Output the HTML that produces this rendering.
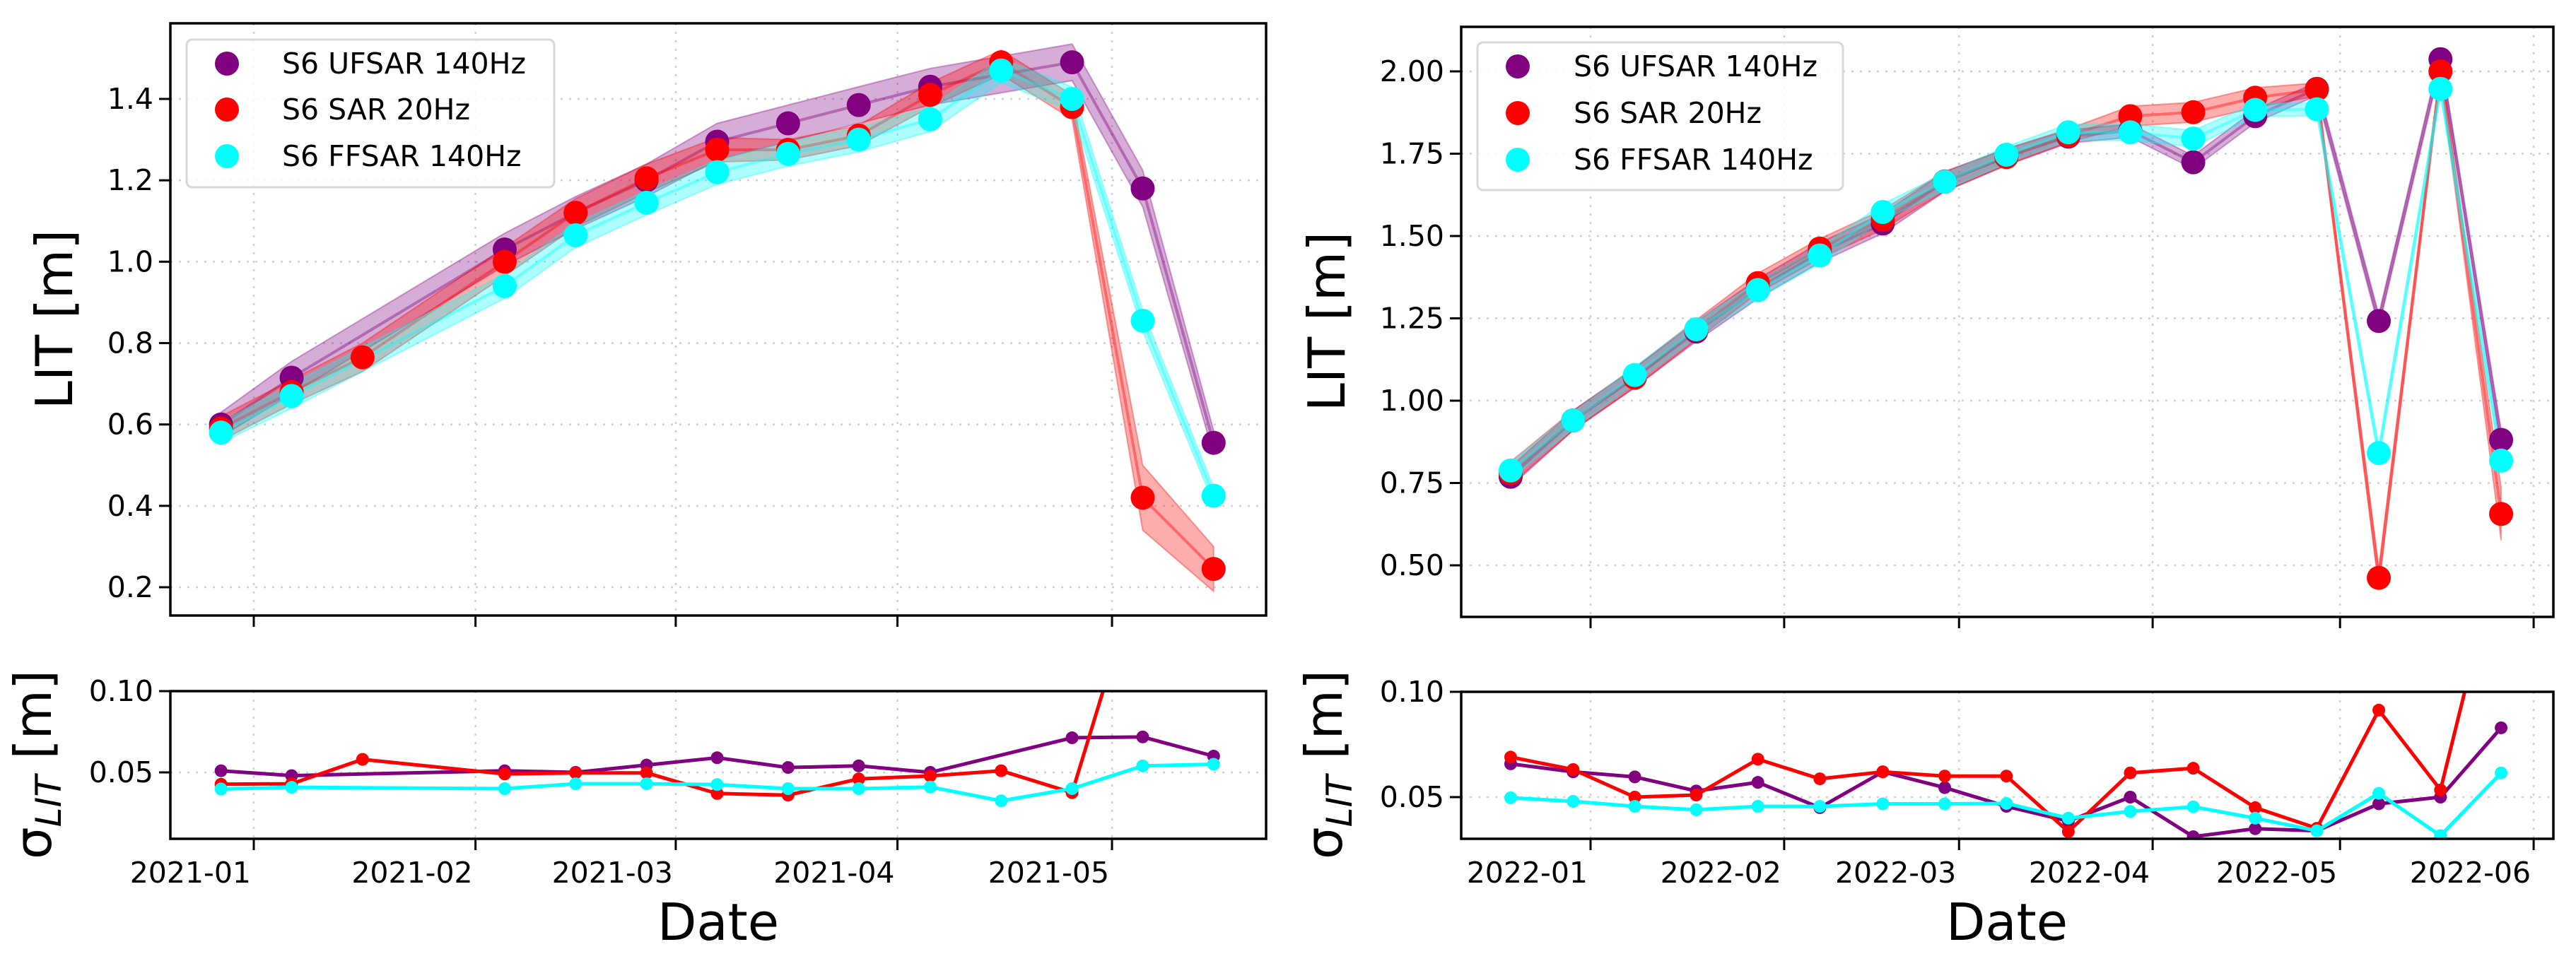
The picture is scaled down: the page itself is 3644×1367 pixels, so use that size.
<!DOCTYPE html>
<html><head><meta charset="utf-8"><style>
html,body{margin:0;padding:0;background:#fff;}
svg{display:block;font-family:"DejaVu Sans","Liberation Sans",sans-serif;}
</style></head><body>
<svg id="fig" width="3644" height="1367" viewBox="0 0 3644 1367" xmlns="http://www.w3.org/2000/svg"></svg>
<script>
// ---------- LEFT (2021) data ----------
const leftDates = ['2020-12-27T10:00Z','2021-01-06T07:00Z','2021-01-16T05:00Z','2021-02-05T02:00Z','2021-02-15T00:00Z','2021-02-24T22:00Z','2021-03-06T19:00Z','2021-03-16T17:00Z','2021-03-26T14:00Z','2021-04-05T14:00Z','2021-04-15T12:00Z','2021-04-25T10:00Z','2021-05-05T07:00Z','2021-05-15T05:00Z'];
const leftUF = [0.60,0.715,null,1.03,1.12,1.20,1.295,1.34,1.385,1.43,null,1.49,1.18,0.555];
const leftSAR = [0.59,0.68,0.765,1.00,1.12,1.205,1.275,1.275,1.31,1.41,1.49,1.38,0.42,0.245];
const leftFF = [0.58,0.67,null,0.94,1.065,1.145,1.22,1.265,1.30,1.35,1.47,1.40,0.855,0.425];
const leftBandUF = [0.03,0.04,0.04,0.04,0.04,0.04,0.045,0.045,0.045,0.045,0.045,0.045,0.045,0.03];
const leftBandSAR = [0.03,0.03,0.035,0.035,0.035,0.035,0.03,0.025,0.025,0.03,0.03,0.03,0.08,0.055];
const leftBandFF = [0.025,0.03,0.03,0.03,0.03,0.03,0.03,0.03,0.03,0.03,0.03,0.03,0.025,0.02];
const leftSigUFv = [0.051,0.048,null,0.051,0.050,0.0545,0.059,0.053,0.054,0.050,null,0.0713,0.0718,0.060];
const leftSigSAR = [0.0427,0.043,0.058,0.049,0.0497,0.0497,0.037,0.036,0.046,0.0478,0.051,0.0375,0.18,0.16];
const leftSigFF = [0.0398,0.0408,null,0.040,0.043,0.043,0.0425,0.040,0.040,0.041,0.0325,0.040,0.054,0.055];
const leftYTicks = [0.2,0.4,0.6,0.8,1.0,1.2,1.4];
const leftYTickLabels = ['0.2','0.4','0.6','0.8','1.0','1.2','1.4'];
const leftXTicks = ['2021-01-01','2021-02-01','2021-03-01','2021-04-01','2021-05-01'];
const leftXTickLabels = ['2021-01','2021-02','2021-03','2021-04','2021-05'];

// ---------- RIGHT (2022) data ----------
const rightDates = ['2021-12-19T05:00Z','2021-12-29T05:00Z','2022-01-08T02:00Z','2022-01-17T22:00Z','2022-01-27T19:00Z','2022-02-06T17:00Z','2022-02-16T19:00Z','2022-02-26T17:00Z','2022-03-08T14:00Z','2022-03-18T12:00Z','2022-03-28T10:00Z','2022-04-07T12:00Z','2022-04-17T10:00Z','2022-04-27T07:00Z','2022-05-07T05:00Z','2022-05-17T02:00Z','2022-05-26T19:00Z'];
const rightUF = [0.769,0.94,1.07,1.21,1.34,1.45,1.538,1.665,1.74,1.802,1.82,1.724,1.864,1.947,1.242,2.037,0.881];
const rightSAR = [0.78,0.94,1.07,1.215,1.357,1.462,1.55,1.666,1.74,1.805,1.864,1.876,1.92,1.945,0.462,2.00,0.656];
const rightFF = [0.788,0.94,1.078,1.217,1.336,1.441,1.573,1.665,1.747,1.815,1.815,1.796,1.883,1.885,0.841,1.947,0.818];
const rightBandUF = [0.03,0.03,0.03,0.03,0.03,0.03,0.03,0.03,0.025,0.02,0.02,0.02,0.02,0.02,0.02,0.02,0.03];
const rightBandSAR = [0.035,0.03,0.03,0.03,0.03,0.03,0.03,0.03,0.025,0.02,0.03,0.03,0.03,0.02,0.03,0.02,0.08];
const rightBandFF = [0.025,0.025,0.025,0.025,0.025,0.025,0.025,0.025,0.025,0.025,0.025,0.025,0.02,0.02,0.02,0.02,0.02];
const rightSigUF = [0.0658,0.062,0.0596,0.0529,0.057,0.045,0.062,0.0545,0.0456,0.0386,0.050,0.0312,0.035,0.034,0.0468,0.050,0.0829];
const rightSigSAR = [0.069,0.0631,0.050,0.051,0.068,0.0587,0.062,0.060,0.060,0.0336,0.0615,0.0637,0.045,0.0352,0.0913,0.0534,0.17];
const rightSigFF = [0.0497,0.048,0.0456,0.044,0.0456,0.0456,0.0468,0.0468,0.047,0.040,0.0432,0.0454,0.040,0.034,0.0518,0.0317,0.0615];
const rightYTicks = [0.5,0.75,1.0,1.25,1.5,1.75,2.0];
const rightYTickLabels = ['0.50','0.75','1.00','1.25','1.50','1.75','2.00'];
const rightXTicks = ['2022-01-01','2022-02-01','2022-03-01','2022-04-01','2022-05-01','2022-06-01'];
const rightXTickLabels = ['2022-01','2022-02','2022-03','2022-04','2022-05','2022-06'];

const sigTicks = [0.05,0.10];
const sigTickLabels = ['0.05','0.10'];

const NS='http://www.w3.org/2000/svg';
const svg=document.getElementById('fig');
function mk(tag,attrs,parent){const e=document.createElementNS(NS,tag);for(const k in attrs)e.setAttribute(k,attrs[k]);(parent||svg).appendChild(e);return e;}
const DAY=86400000;
const COL={uf:'#800080',sar:'#ff0000',ff:'#00ffff'};

function makeX(ref,refPx,pxPerDay){const r=Date.parse(ref+'T00:00Z');return d=>refPx+(Date.parse(d.length===10?d+'T00:00Z':d)-r)/DAY*pxPerDay;}
function makeY(v0,p0,v1,p1){return v=>p0+(v-v0)*(p1-p0)/(v1-v0);}

function panel(cfg){
  const g=mk('g',{});
  
  
  const {L,R,T,B}=cfg.box;
  const clipId=cfg.name+'-clip';
  const cp=mk('clipPath',{id:clipId},g);mk('rect',{x:L,y:T,width:R-L,height:B-T},cp);
  const grid=mk('g',{},g);
  
  
  cfg.xTicks.forEach(t=>{const x=cfg.x(t);mk('line',{x1:x,x2:x,y1:T,y2:B,stroke:'#d0d0d0','stroke-width':2.5,'stroke-dasharray':'3,9'},grid);});
  cfg.yTicks.forEach(v=>{const y=cfg.y(v);mk('line',{x1:L,x2:R,y1:y,y2:y,stroke:'#d0d0d0','stroke-width':2.5,'stroke-dasharray':'3,9'},grid);});
  const plot=mk('g',{'clip-path':'url(#'+clipId+')'},g);
  cfg.draw(plot);
  const fr=mk('rect',{x:L,y:T,width:R-L,height:B-T,fill:'none',stroke:'#000','stroke-width':3.5},g);
  
  
  cfg.yTicks.forEach((v,i)=>{const y=cfg.y(v);
    mk('line',{x1:L-16,x2:L,y1:y,y2:y,stroke:'#000','stroke-width':3},g);
    const t=mk('text',{x:L-24,y:y+14,'text-anchor':'end','font-size':41,fill:'#000'},g);
    t.textContent=cfg.yLabels[i];
    
    });
  cfg.xTicks.forEach((d,i)=>{const x=cfg.x(d);
    mk('line',{x1:x,x2:x,y1:B,y2:B+16,stroke:'#000','stroke-width':3},g);
    if(cfg.xLabels){const t=mk('text',{x:x-4,y:B+62,'text-anchor':'end','font-size':41,fill:'#000'},g);
      t.textContent=cfg.xLabels[i];
      
      }});
  return g;
}

function bandAndLine(p,dates,vals,band,col,x,y){
  const pts=[];vals.forEach((v,i)=>{if(v!=null)pts.push([x(dates[i]),v,band[i]]);});
  const up=pts.map(q=>q[0]+','+y(q[1]+q[2])).join(' ');
  const dn=pts.slice().reverse().map(q=>q[0]+','+y(q[1]-q[2])).join(' ');
  const b=mk('polygon',{points:up+' '+dn,fill:col,'fill-opacity':0.32,stroke:col,'stroke-opacity':0.35,'stroke-width':2},p);
  
  
  const l=mk('polyline',{points:pts.map(q=>q[0]+','+y(q[1])).join(' '),fill:'none',stroke:col,'stroke-opacity':0.4,'stroke-width':4},p);
  
  
}
function dots(p,dates,vals,col,x,y,r,name){
  vals.forEach((v,i)=>{if(v==null)return;
    const c=mk('circle',{cx:x(dates[i]),cy:y(v),r:r,fill:col},p);
    
    });
}
function sigLine(p,dates,vals,col,x,y,name){
  const pts=[];vals.forEach((v,i)=>{if(v!=null)pts.push(x(dates[i])+','+y(v));});
  const l=mk('polyline',{points:pts.join(' '),fill:'none',stroke:col,'stroke-width':5,'stroke-linejoin':'round'},p);
  
  
  dots(p,dates,vals,col,x,y,9,name+'-point');
}
function legend(x0,y0,w,h,mx,tx,rows){
  const g=mk('g',{});
  
  
  mk('rect',{x:x0,y:y0,width:w,height:h,rx:8,fill:'#fff','fill-opacity':0.85,stroke:'#d8d8d8','stroke-width':3},g);
  const items=[['S6 UFSAR 140Hz',COL.uf],['S6 SAR 20Hz',COL.sar],['S6 FFSAR 140Hz',COL.ff]];
  items.forEach((it,i)=>{const e=mk('g',{},g);
    
    
    mk('circle',{cx:mx,cy:rows[i],r:17,fill:it[1]},e);
    const t=mk('text',{x:tx,y:rows[i]+14,'font-size':41,fill:'#000'},e);t.textContent=it[0];});
}
function ylabelLIT(cx,cy){
  const t=mk('text',{x:cx,y:cy,'text-anchor':'middle','font-size':72,fill:'#000',transform:'rotate(-90 '+cx+' '+cy+')'});
  t.textContent='LIT [m]';
  
  
}
function ylabelSig(cx,cy){
  const t=mk('text',{x:cx,y:cy,'text-anchor':'middle','font-size':72,fill:'#000',transform:'rotate(-90 '+cx+' '+cy+')'});
  
  
  const a=mk('tspan',{},t);a.textContent='σ';
  const b=mk('tspan',{'font-size':50,'font-style':'italic',dy:14},t);b.textContent='LIT';
  const c=mk('tspan',{dy:-14},t);c.textContent=' [m]';
}
function xlabel(cx,cy){
  const t=mk('text',{x:cx,y:cy,'text-anchor':'middle','font-size':72,fill:'#000'});
  t.textContent='Date';
  
  
}

// ===== Left =====
const xL=makeX('2021-01-01',359,10.117);
const yL=makeY(0.2,831,1.4,140);
panel({name:'left-main-chart',box:{L:241,R:1791,T:33,B:871},x:xL,y:yL,xTicks:leftXTicks,yTicks:leftYTicks,yLabels:leftYTickLabels,
  draw:p=>{bandAndLine(p,leftDates,leftUF,leftBandUF,COL.uf,xL,yL);bandAndLine(p,leftDates,leftSAR,leftBandSAR,COL.sar,xL,yL);bandAndLine(p,leftDates,leftFF,leftBandFF,COL.ff,xL,yL);
    dots(p,leftDates,leftUF,COL.uf,xL,yL,17,'ufsar-point');dots(p,leftDates,leftSAR,COL.sar,xL,yL,17,'sar-point');dots(p,leftDates,leftFF,COL.ff,xL,yL,17,'ffsar-point');}});
legend(264,56,520,209,321,399,[90,155,221]);
ylabelLIT(102,452);
const ysL=makeY(0.05,1093,0.10,978);
panel({name:'left-sigma-chart',box:{L:241,R:1791,T:978,B:1187},x:xL,y:ysL,xTicks:leftXTicks,xLabels:leftXTickLabels,yTicks:sigTicks,yLabels:sigTickLabels,
  draw:p=>{sigLine(p,leftDates,leftSigUFv,COL.uf,xL,ysL,'ufsar-sigma');sigLine(p,leftDates,leftSigSAR,COL.sar,xL,ysL,'sar-sigma');sigLine(p,leftDates,leftSigFF,COL.ff,xL,ysL,'ffsar-sigma');}});
ylabelSig(72,1082);
xlabel(1016,1330);

// ===== Right =====
const xR=makeX('2022-01-01',2250,8.835);
const yR=makeY(2.0,101,0.5,800);
panel({name:'right-main-chart',box:{L:2067,R:3612,T:38,B:873},x:xR,y:yR,xTicks:rightXTicks,yTicks:rightYTicks,yLabels:rightYTickLabels,
  draw:p=>{bandAndLine(p,rightDates,rightUF,rightBandUF,COL.uf,xR,yR);bandAndLine(p,rightDates,rightSAR,rightBandSAR,COL.sar,xR,yR);bandAndLine(p,rightDates,rightFF,rightBandFF,COL.ff,xR,yR);
    dots(p,rightDates,rightUF,COL.uf,xR,yR,17,'ufsar-point');dots(p,rightDates,rightSAR,COL.sar,xR,yR,17,'sar-point');dots(p,rightDates,rightFF,COL.ff,xR,yR,17,'ffsar-point');}});
legend(2090,60,517,209,2147,2226,[94,160,226]);
ylabelLIT(1902,455);
const ysR=makeY(0.05,1128,0.10,979);
panel({name:'right-sigma-chart',box:{L:2067,R:3612,T:979,B:1187},x:xR,y:ysR,xTicks:rightXTicks,xLabels:rightXTickLabels,yTicks:sigTicks,yLabels:sigTickLabels,
  draw:p=>{sigLine(p,rightDates,rightSigUF,COL.uf,xR,ysR,'ufsar-sigma');sigLine(p,rightDates,rightSigSAR,COL.sar,xR,ysR,'sar-sigma');sigLine(p,rightDates,rightSigFF,COL.ff,xR,ysR,'ffsar-sigma');}});
ylabelSig(1898,1082);
xlabel(2839,1330);
</script>
</body></html>
